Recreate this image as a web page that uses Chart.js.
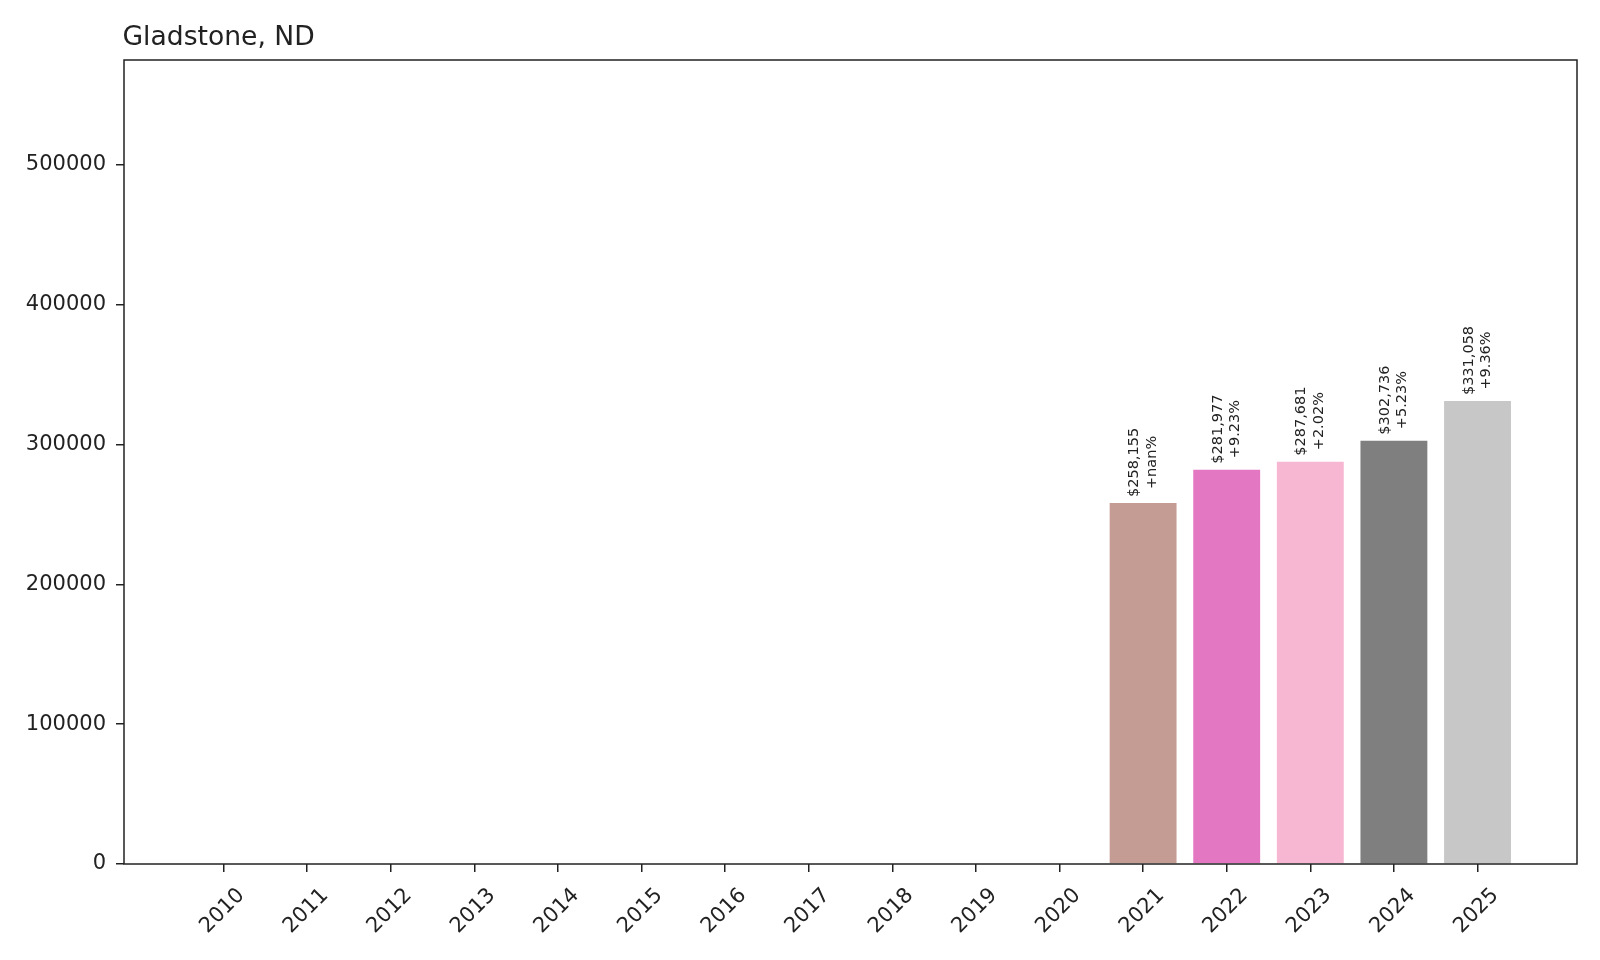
<!DOCTYPE html>
<html>
<head>
<meta charset="utf-8">
<title>Gladstone, ND</title>
<script src="https://cdn.jsdelivr.net/npm/chart.js@4"></script>
<style>
  html, body { margin: 0; padding: 0; background: #fff; }
  canvas { display: block; }
</style>
</head>
<body>
<canvas id="chart" width="1600" height="960"></canvas>
<script>
"use strict";

const chartTitle = "Gladstone, ND";
const years = ["2010", "2011", "2012", "2013", "2014", "2015", "2016", "2017",
               "2018", "2019", "2020", "2021", "2022", "2023", "2024", "2025"];
// no data before 2021
const values = [0, 0, 0, 0, 0, 0, 0, 0, 0, 0, 0, 258155, 281977, 287681, 302736, 331058];
const barColors = ["#1f77b4", "#aec7e8", "#ff7f0e", "#ffbb78", "#2ca02c", "#98df8a",
                   "#d62728", "#ff9896", "#9467bd", "#c5b0d5", "#8c564b", "#c49c94",
                   "#e377c2", "#f7b6d2", "#7f7f7f", "#c7c7c7"];
const yTicks = [0, 100000, 200000, 300000, 400000, 500000];
const yMax = 575000;

const textColor = "#222";
const font = "DejaVu Sans";

function barLabel(i)
{
    const v = values[i];
    const prev = i > 0 ? values[i - 1] : 0;
    const pct = prev > 0 ? ((v / prev - 1) * 100).toFixed(2) : "nan";
    return ["$" + v.toLocaleString("en-US"), "+" + pct + "%"];
}

// title, frame, rotated year labels and bar value labels
const extrasPlugin = {
    id: "extras",
    afterDatasetsDraw(chart) {
        const ctx = chart.ctx;
        const area = chart.chartArea;
        const xScale = chart.scales.x;

        ctx.save();
        ctx.fillStyle = textColor;
        ctx.font = "26.6px '" + font + "'";
        ctx.textAlign = "left";
        ctx.textBaseline = "alphabetic";
        ctx.fillText(chartTitle, area.left - 1.5, 45);

        ctx.strokeStyle = textColor;
        ctx.lineWidth = 1.5;
        ctx.strokeRect(area.left, area.top, area.right - area.left, area.bottom - area.top);

        // x labels, rotated 45 degrees, centred under the tick
        ctx.font = "21px '" + font + "'";
        ctx.textAlign = "center";
        ctx.textBaseline = "middle";
        years.forEach((year, i) => {
            const x = xScale.getPixelForValue(i);
            ctx.save();
            ctx.translate(x - 1, area.bottom + 47);
            ctx.rotate(-Math.PI / 4);
            ctx.fillText(year, 0, 0);
            ctx.restore();
        });

        // value labels above bars
        const meta = chart.getDatasetMeta(0);
        ctx.font = "14.5px '" + font + "'";
        const lineH = 17.5;
        meta.data.forEach((bar, i) => {
            if (!values[i]) return;
            const lines = barLabel(i);
            const widths = lines.map(l => ctx.measureText(l).width);
            const w = Math.max(...widths);
            ctx.save();
            ctx.translate(bar.x, bar.y - 6);
            ctx.rotate(-Math.PI / 2);
            ctx.textAlign = "left";
            lines.forEach((line, k) => {
                ctx.fillText(line, (w - widths[k]) / 2, (k - 0.5) * lineH);
            });
            ctx.restore();
        });
        ctx.restore();
    }
};

const ctx = document.getElementById("chart");

new Chart(ctx, {
    type: "bar",
    data: {
        datasets: [{
            data: values.map((v, i) => ({ x: i, y: v })),
            backgroundColor: barColors,
            borderWidth: 0,
            barPercentage: 0.8,
            categoryPercentage: 1.0
        }]
    },
    options: {
        responsive: false,
        animation: false,
        layout: { padding: { top: 60, right: 23, bottom: 0, left: 0 } },
        plugins: {
            legend: { display: false },
            tooltip: { enabled: false },
            title: { display: false }
        },
        scales: {
            x: {
                type: "linear",
                offset: false,
                min: -1.19,
                max: 16.19,
                afterBuildTicks: scale => {
                    scale.ticks = years.map((_, i) => ({ value: i }));
                },
                afterFit: scale => { scale.height = 96; },
                ticks: { display: false },
                grid: {
                    offset: false,
                    drawOnChartArea: false,
                    drawTicks: true,
                    tickLength: 8,
                    color: textColor,
                    lineWidth: 1.5
                },
                border: { display: false }
            },
            y: {
                min: 0,
                max: yMax,
                afterBuildTicks: scale => {
                    scale.ticks = yTicks.map(v => ({ value: v }));
                },
                afterFit: scale => { scale.width = 124; },
                ticks: {
                    color: textColor,
                    font: { family: font, size: 21 },
                    padding: 10,
                    callback: value => String(value)
                },
                grid: {
                    drawOnChartArea: false,
                    drawTicks: true,
                    tickLength: 8,
                    color: textColor,
                    lineWidth: 1.5
                },
                border: { display: false }
            }
        }
    },
    plugins: [extrasPlugin]
});
</script>
</body>
</html>
